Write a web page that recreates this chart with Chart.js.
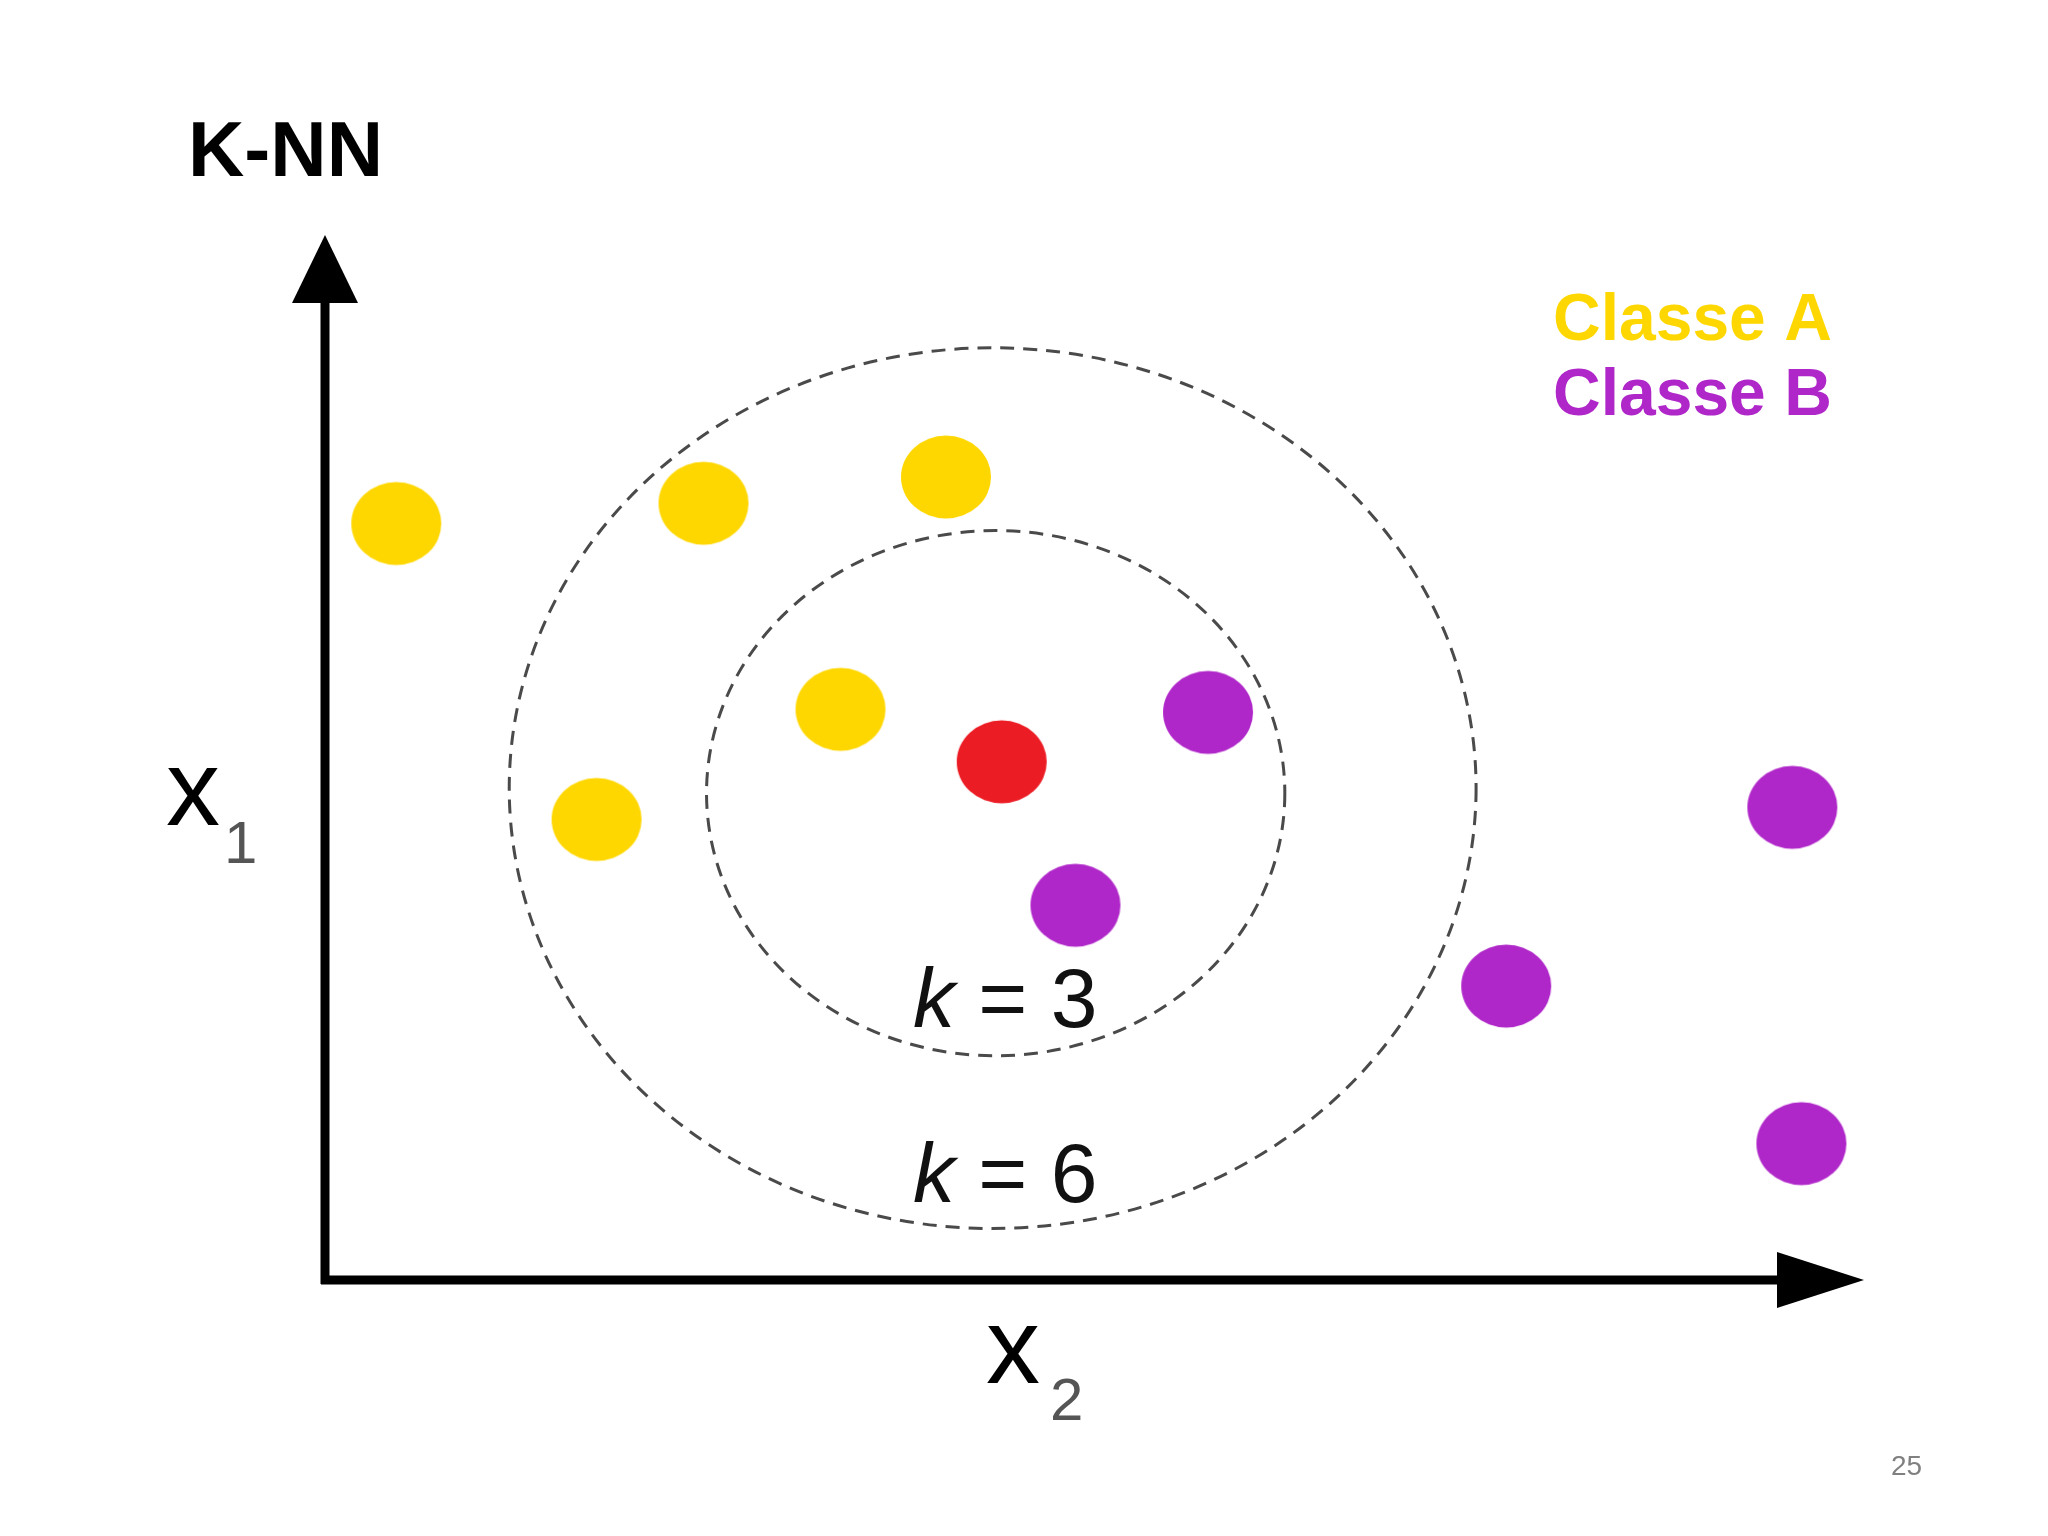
<!DOCTYPE html>
<html>
<head>
<meta charset="utf-8">
<title>K-NN</title>
<script src="https://cdn.jsdelivr.net/npm/chart.js@4.4.0/dist/chart.umd.min.js"></script>
<style>
  html, body { margin: 0; padding: 0; background: #fff; }
  #wrap { width: 2048px; height: 1536px; position: relative; }
</style>
</head>
<body>
<div id="wrap"><canvas id="knn"></canvas></div>
<script>
// data (axis units 0..100 on both axes)
const classAx = [4.8, 25.2, 41.3, 34.3, 18.1];
const classAy = [74.9, 76.9, 79.5, 56.5, 45.6];
const classBx = [58.7, 49.9, 78.5, 97.5, 98.1];
const classBy = [56.2, 37.1, 29.1, 46.8, 13.5];
const queryX = [45.0];
const queryY = [51.3];

// neighbourhood rings, k = 3 and k = 6
const kValues = [3, 6];
const ringCx = [44.6, 44.4];
const ringCy = [48.2, 48.7];
const ringRx = [19.2, 32.1];
const ringRy = [26.0, 43.6];

const legendLabels = ['Classe A', 'Classe B'];
const yellow = '#ffd700';
const purple = '#b027c9';
const red = '#ec1c24';

function toPoints(xs, ys) {
  return xs.map((x, i) => ({ x: x, y: ys[i] }));
}

// slightly oval dot used as point style
function blob(color) {
  const c = document.createElement('canvas');
  c.width = 92; c.height = 86;
  const g = c.getContext('2d');
  g.fillStyle = color;
  g.beginPath();
  g.ellipse(46, 43, 45, 41.5, 0, 0, Math.PI * 2);
  g.fill();
  return c;
}

const decor = {
  id: 'decor',
  beforeDatasetsDraw(chart) {
    const ctx = chart.ctx;
    const xs = chart.scales.x, ys = chart.scales.y;
    const a = chart.chartArea;

    // dashed rings
    ctx.save();
    ctx.strokeStyle = '#4a4a4a';
    ctx.lineWidth = 3;
    ctx.setLineDash([14, 9]);
    kValues.forEach((k, i) => {
      const cx = xs.getPixelForValue(ringCx[i]);
      const cy = ys.getPixelForValue(ringCy[i]);
      const rx = xs.getPixelForValue(ringCx[i] + ringRx[i]) - cx;
      const ry = cy - ys.getPixelForValue(ringCy[i] + ringRy[i]);
      ctx.beginPath();
      ctx.ellipse(cx, cy, rx, ry, 0, 0, Math.PI * 2);
      ctx.stroke();
    });
    ctx.restore();

    // axes with arrow heads
    const ox = a.left + 1, oy = a.bottom;
    ctx.save();
    ctx.strokeStyle = '#000';
    ctx.fillStyle = '#000';
    ctx.lineWidth = 9;
    ctx.beginPath();
    ctx.moveTo(ox, oy + 4);
    ctx.lineTo(ox, 300);
    ctx.moveTo(ox - 4, oy);
    ctx.lineTo(1780, oy);
    ctx.stroke();
    ctx.beginPath();
    ctx.moveTo(ox, 235);
    ctx.lineTo(ox + 33, 303);
    ctx.lineTo(ox - 33, 303);
    ctx.closePath();
    ctx.fill();
    ctx.beginPath();
    ctx.moveTo(1864, oy);
    ctx.lineTo(1777, oy - 28);
    ctx.lineTo(1777, oy + 28);
    ctx.closePath();
    ctx.fill();
    ctx.restore();
  },
  afterDraw(chart) {
    const ctx = chart.ctx;
    ctx.save();
    ctx.textBaseline = 'alphabetic';
    ctx.textAlign = 'left';

    // title
    ctx.fillStyle = '#000';
    ctx.font = 'bold 78px "Liberation Sans", Arial, sans-serif';
    ctx.fillText('K-NN', 188, 176);

    // legend
    ctx.font = 'bold 66px "Liberation Sans", Arial, sans-serif';
    ctx.fillStyle = yellow;
    ctx.fillText(legendLabels[0], 1553, 340);
    ctx.fillStyle = purple;
    ctx.fillText(legendLabels[1], 1553, 415);

    // axis labels
    ctx.fillStyle = '#000';
    ctx.font = '108px "Liberation Sans", Arial, sans-serif';
    ctx.fillText('x', 166, 825);
    ctx.fillText('x', 986, 1383);
    ctx.fillStyle = '#555';
    ctx.font = '60px "Liberation Sans", Arial, sans-serif';
    ctx.fillText('1', 224, 863);
    ctx.fillText('2', 1050, 1420);

    // ring labels
    const baselines = [1027, 1202];
    kValues.forEach((k, i) => {
      ctx.fillStyle = '#111';
      ctx.font = 'italic 84px "Liberation Sans", Arial, sans-serif';
      ctx.fillText('k', 913, baselines[i]);
      const w = ctx.measureText('k').width;
      ctx.font = '84px "Liberation Sans", Arial, sans-serif';
      ctx.fillText(' = ' + k, 913 + w, baselines[i]);
    });

    // slide number
    ctx.fillStyle = '#808080';
    ctx.font = '28px "Liberation Sans", Arial, sans-serif';
    ctx.fillText('25', 1891, 1475);
    ctx.restore();
  }
};

new Chart(document.getElementById('knn'), {
  type: 'scatter',
  data: {
    datasets: [
      { label: legendLabels[0], data: toPoints(classAx, classAy), pointStyle: blob(yellow), pointRadius: 43, clip: false },
      { label: legendLabels[1], data: toPoints(classBx, classBy), pointStyle: blob(purple), pointRadius: 43, clip: false },
      { label: 'Query', data: toPoints(queryX, queryY), pointStyle: blob(red), pointRadius: 43, clip: false }
    ]
  },
  options: {
    responsive: true,
    maintainAspectRatio: false,
    animation: false,
    events: [],
    layout: { padding: { left: 324, right: 218, top: 270, bottom: 256 } },
    scales: {
      x: { type: 'linear', min: 0, max: 100, display: false },
      y: { type: 'linear', min: 0, max: 100, display: false }
    },
    plugins: {
      legend: { display: false },
      title: { display: false },
      tooltip: { enabled: false }
    }
  },
  plugins: [decor]
});
</script>
</body>
</html>
